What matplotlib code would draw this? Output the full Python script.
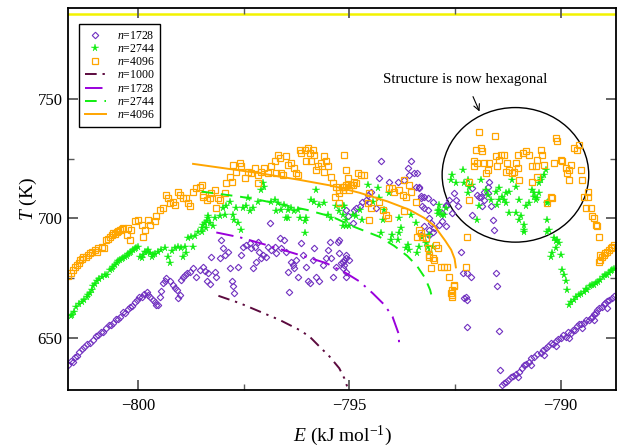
import matplotlib
matplotlib.use("Agg")
import matplotlib.pyplot as plt
from matplotlib.patches import Ellipse
import numpy as np

plt.rcParams['font.family'] = ['Liberation Serif', 'DejaVu Serif']
plt.rcParams['mathtext.fontset'] = 'custom'
plt.rcParams['mathtext.rm'] = 'Liberation Serif'
plt.rcParams['mathtext.it'] = 'Liberation Serif:italic'

# ---------------- data (E in kJ/mol, T in K) ----------------
pts_1728 = [
    (-801.65, 638.5), (-801.6, 640.5), (-801.55, 640.0), (-801.5, 642.0), (-801.45, 642.5), (-801.4, 644.0),
    (-801.34, 645.3), (-801.28, 646.0), (-801.22, 647.5), (-801.15, 648.0), (-801.06, 649.2), (-801.0, 650.8),
    (-800.94, 651.0), (-800.88, 652.5), (-800.83, 652.6), (-800.76, 654.0), (-800.7, 655.2), (-800.64, 655.5),
    (-800.59, 656.2), (-800.52, 657.8), (-800.47, 658.0), (-800.43, 658.9), (-800.37, 660.8), (-800.31, 660.3),
    (-800.25, 662.0), (-800.2, 663.1), (-800.14, 663.5), (-800.08, 665.2), (-800.02, 665.8), (-799.97, 667.0),
    (-799.92, 667.3), (-799.86, 668.2), (-799.8, 669.4), (-799.76, 668.0), (-799.72, 667.3), (-799.66, 665.8),
    (-799.61, 665.2), (-799.57, 663.6), (-799.53, 663.8), (-799.49, 667.3), (-799.45, 669.5), (-799.41, 672.9),
    (-799.37, 674.0), (-799.33, 675.0), (-799.25, 673.6), (-799.17, 672.2), (-799.13, 671.0), (-799.09, 670.1),
    (-799.06, 666.6), (-799.02, 668.0), (-798.98, 674.3), (-798.94, 675.5), (-798.9, 676.4), (-798.84, 677.0),
    (-798.78, 677.7), (-798.7, 679.2), (-798.62, 675.6), (-798.54, 678.5), (-798.46, 679.8), (-798.42, 678.0),
    (-798.38, 673.6), (-798.35, 677.1), (-798.31, 672.5),
    (-798.27, 684.0), (-798.19, 677.7), (-798.15, 675.5), (-798.07, 683.3), (-798.03, 691.0), (-797.99, 687.5),
    (-797.95, 684.7), (-797.87, 686.1), (-797.83, 679.2), (-797.79, 673.6), (-797.76, 671.5), (-797.72, 668.7),
    (-797.64, 679.8), (-797.56, 684.7), (-797.52, 688.2), (-797.44, 688.9), (-797.36, 689.6), (-797.32, 687.5),
    (-797.24, 688.2), (-797.17, 690.3), (-797.13, 686.1), (-797.09, 683.3), (-797.05, 684.7), (-797.28, 679.2),
    (-797.2, 681.9), (-796.97, 684.0), (-796.93, 688.2), (-796.89, 698.0), (-796.85, 686.8), (-796.77, 688.2),
    (-796.73, 685.4), (-796.65, 691.7), (-796.61, 687.5), (-796.54, 691.0), (-796.5, 686.1), (-796.46, 677.7),
    (-796.42, 669.4), (-796.38, 681.9), (-796.34, 680.5), (-796.3, 679.2), (-796.26, 682.6), (-796.22, 675.6),
    (-796.14, 689.6), (-796.1, 684.7), (-796.02, 679.8), (-795.98, 673.6), (-795.94, 672.9), (-795.87, 682.6),
    (-795.83, 687.5), (-795.79, 675.6), (-795.71, 673.6), (-795.63, 680.5), (-795.55, 683.3), (-795.51, 686.8),
    (-795.47, 690.3), (-795.43, 683.3), (-795.39, 675.6), (-795.31, 679.8), (-795.28, 690.3), (-795.24, 685.4),
    (-795.2, 681.3), (-795.16, 679.2), (-795.12, 682.6), (-795.08, 684.7), (-795.04, 700.8), (-795.08, 677.7),
    (-794.25, 723.8), (-793.54, 723.8), (-793.62, 721.0), (-794.29, 716.8), (-794.06, 715.4), (-793.86, 715.4),
    (-793.7, 716.1), (-793.58, 718.2), (-793.46, 718.9), (-793.39, 718.9), (-793.42, 713.3), (-793.35, 712.6),
    (-793.31, 708.5), (-793.15, 708.5), (-793.23, 704.3), (-793.15, 703.6), (-793.11, 700.1), (-793.07, 698.0),
    (-794.49, 711.2), (-794.57, 709.8), (-794.61, 707.7), (-794.69, 707.0), (-794.53, 707.0), (-794.37, 704.3),
    (-794.76, 705.0), (-794.88, 703.6), (-794.84, 704.3), (-795.08, 703.6), (-794.92, 698.0), (-792.72, 705.6),
    (-792.8, 702.2), (-792.87, 697.3), (-792.8, 698.7), (-792.72, 696.6), (-793.11, 695.2), (-795.24, 691.0),
    (-795.08, 683.3), (-795.16, 681.9), (-795.0, 682.6), (-795.12, 680.5), (-795.08, 675.6),
    (-792.36, 686.1), (-792.21, 677.1), (-792.13, 675.6), (-792.28, 666.6), (-792.21, 665.9), (-792.24, 667.0),
    (-792.21, 654.7), (-791.5, 671.5), (-791.54, 677.1), (-791.46, 652.9), (-791.43, 636.6), (-792.09, 701.5),
    (-791.58, 695.2), (-791.93, 709.1), (-791.73, 710.5), (-791.81, 707.7), (-792.32, 677.1),
    (-793.35, 713.3), (-793.31, 709.5), (-793.23, 708.8), (-793.27, 705.3), (-793.03, 707.0), (-792.64, 707.7),
    (-792.72, 705.0), (-792.52, 710.5), (-792.48, 707.7), (-792.44, 705.0), (-792.56, 702.2), (-792.09, 712.6),
    (-791.97, 709.8), (-791.89, 709.1), (-791.81, 711.2), (-791.73, 713.3), (-791.7, 715.4), (-791.85, 705.0),
    (-791.65, 705.0), (-791.61, 699.4), (-793.03, 694.5), (-792.99, 695.9), (-793.23, 696.6), (-793.11, 693.1),
    (-793.31, 693.1),
    (-791.39, 630.3), (-791.34, 631.0), (-791.3, 631.7), (-791.24, 632.5), (-791.18, 633.8), (-791.12, 634.0),
    (-791.06, 634.9), (-790.98, 635.9), (-790.92, 637.5), (-790.87, 638.7), (-790.81, 639.0), (-790.75, 640.1),
    (-790.69, 641.5), (-790.63, 642.2), (-790.55, 643.3), (-790.47, 643.5), (-790.41, 645.0), (-790.35, 645.7),
    (-790.29, 646.5), (-790.24, 647.8), (-790.18, 647.5), (-790.12, 648.5), (-790.06, 649.5), (-790.0, 649.9),
    (-789.94, 651.0), (-789.88, 650.5), (-789.82, 652.5), (-789.76, 652.0), (-789.7, 653.5), (-789.65, 653.3),
    (-789.61, 655.0), (-789.57, 655.9), (-789.51, 656.0), (-789.45, 656.4), (-789.39, 657.5), (-789.33, 657.5),
    (-789.29, 658.5), (-789.25, 658.9), (-789.21, 660.0), (-789.17, 660.6), (-789.13, 661.5), (-789.1, 662.4),
    (-789.02, 663.1), (-788.98, 664.0), (-788.94, 664.5), (-788.9, 665.5), (-788.86, 665.9), (-788.78, 666.6),
    (-788.74, 667.5), (-791.0, 633.5), (-790.7, 638.5), (-790.4, 643.0), (-790.1, 646.5), (-789.8, 650.0),
    (-789.5, 654.0), (-789.2, 657.5), (-788.9, 662.5),
]

pts_2744 = [
    (-801.6, 659.0), (-801.57, 659.6), (-801.52, 661.0), (-801.46, 663.1), (-801.4, 664.0), (-801.34, 665.2),
    (-801.28, 666.0), (-801.22, 667.3), (-801.18, 668.0), (-801.14, 668.7), (-801.1, 670.0), (-801.06, 671.5),
    (-801.02, 672.5), (-800.98, 673.6), (-800.92, 674.5), (-800.86, 675.6), (-800.79, 676.4), (-800.73, 676.2),
    (-800.67, 678.5), (-800.63, 679.0), (-800.59, 679.8), (-800.55, 680.5), (-800.51, 681.3), (-800.47, 682.0),
    (-800.43, 682.6), (-800.39, 683.0), (-800.35, 683.3), (-800.31, 684.0), (-800.27, 684.3), (-800.23, 685.0),
    (-800.2, 685.4), (-800.16, 686.0), (-800.12, 686.8), (-800.08, 687.0), (-800.04, 687.5), (-800.0, 688.0),
    (-799.96, 684.0), (-799.92, 683.5), (-799.88, 684.5), (-799.84, 685.8), (-799.8, 686.0), (-799.76, 686.8),
    (-799.72, 685.5), (-799.68, 684.0), (-799.64, 684.5), (-799.6, 685.0), (-799.53, 686.1), (-799.45, 686.8),
    (-799.37, 687.5), (-799.29, 684.0), (-799.25, 681.3), (-799.21, 686.5), (-799.13, 687.5), (-799.06, 688.2),
    (-798.98, 687.5), (-798.9, 688.2), (-798.94, 684.0), (-798.86, 685.4), (-798.82, 691.7), (-798.74, 692.4),
    (-798.7, 688.2), (-798.66, 692.5), (-798.58, 694.5), (-798.5, 695.9), (-798.46, 697.3), (-798.42, 698.0),
    (-798.38, 698.7), (-798.35, 700.8),
    (-798.5, 694.5), (-798.35, 700.1), (-798.31, 698.0), (-798.23, 696.6), (-798.39, 696.0), (-798.19, 700.1),
    (-798.07, 700.8), (-797.99, 704.3), (-797.91, 705.0), (-797.83, 707.0), (-797.95, 701.5), (-797.76, 701.5),
    (-797.72, 699.5), (-797.64, 698.0), (-797.56, 695.2), (-797.68, 704.3), (-797.52, 704.3), (-797.44, 705.0),
    (-797.36, 702.9), (-797.28, 704.3), (-797.4, 708.5), (-797.17, 707.0), (-797.09, 711.9), (-797.01, 713.3),
    (-797.05, 714.7), (-796.85, 707.0), (-796.77, 707.7), (-796.69, 706.4), (-796.61, 703.6), (-796.54, 705.6),
    (-796.46, 703.6), (-796.38, 704.3), (-796.3, 702.9), (-796.22, 703.6), (-796.18, 700.1), (-796.06, 698.7),
    (-796.02, 700.1), (-796.46, 700.1), (-796.73, 703.0), (-795.9, 707.7), (-795.79, 711.9), (-795.83, 707.0),
    (-795.71, 705.6), (-795.59, 706.4), (-795.51, 701.5), (-795.43, 700.1), (-795.31, 705.0), (-795.24, 702.9),
    (-795.16, 701.5), (-795.08, 696.6), (-795.12, 705.0), (-796.06, 693.8), (-796.5, 700.1),
    (-794.57, 714.0), (-794.33, 712.6), (-794.06, 710.5), (-794.29, 708.5), (-794.45, 707.0), (-794.76, 703.6),
    (-794.92, 701.5), (-794.84, 700.8), (-794.69, 699.4), (-795.08, 699.4), (-795.0, 696.6), (-795.16, 705.0),
    (-795.16, 696.6), (-794.21, 699.4), (-794.17, 703.6), (-793.82, 700.1), (-793.78, 695.9), (-793.54, 701.5),
    (-793.42, 698.0), (-793.62, 688.9), (-793.66, 687.5), (-793.58, 686.8), (-793.35, 688.2), (-793.39, 685.4),
    (-793.82, 693.8), (-793.86, 691.0), (-793.98, 693.1), (-794.02, 691.0), (-794.25, 693.8), (-793.15, 688.2),
    (-793.11, 686.1), (-792.91, 702.9), (-792.87, 705.6), (-792.8, 701.5), (-792.72, 704.3), (-792.6, 716.1),
    (-792.48, 714.7), (-793.27, 692.4), (-793.11, 693.1), (-793.19, 689.6), (-793.03, 688.2),
    (-792.56, 718.2), (-792.32, 720.3), (-792.28, 714.7), (-792.2, 716.1), (-792.17, 713.3), (-792.09, 714.0),
    (-791.89, 716.1), (-791.77, 711.9), (-791.73, 709.8), (-791.65, 707.7), (-791.54, 711.2), (-791.46, 712.6),
    (-791.38, 709.1), (-791.34, 707.7), (-791.3, 706.4), (-791.22, 711.2), (-791.14, 716.1), (-791.06, 713.3),
    (-790.98, 707.7), (-790.83, 705.0), (-790.75, 706.4), (-790.63, 709.1), (-790.51, 710.5), (-790.47, 716.1),
    (-790.39, 718.2), (-790.35, 720.3), (-790.32, 706.4), (-791.22, 702.2), (-791.06, 702.2), (-790.94, 700.8),
    (-790.87, 697.3), (-790.98, 699.4), (-791.97, 699.4), (-791.93, 705.0), (-791.5, 705.6), (-790.87, 695.2),
    (-791.46, 707.7), (-792.87, 703.6), (-792.91, 702.0), (-792.75, 701.5), (-792.2, 710.5), (-791.3, 710.5),
    (-790.47, 716.8), (-790.51, 715.0), (-790.67, 711.9), (-790.63, 710.5), (-790.55, 708.5), (-790.59, 707.7),
    (-790.3, 707.0), (-790.32, 699.4), (-790.28, 695.2), (-790.16, 691.7), (-790.12, 690.5), (-790.08, 691.0),
    (-790.04, 689.6), (-790.12, 687.5), (-790.2, 685.4), (-790.24, 684.0), (-790.0, 684.7), (-789.96, 678.5),
    (-789.92, 676.4), (-789.88, 673.6), (-789.84, 670.1), (-790.87, 694.5), (-790.32, 694.5),
    (-789.81, 663.8), (-789.75, 665.0), (-789.69, 665.9), (-789.63, 667.0), (-789.57, 668.0), (-789.51, 668.5),
    (-789.45, 669.4), (-789.41, 670.5), (-789.37, 670.1), (-789.31, 671.5), (-789.25, 672.2), (-789.21, 672.0),
    (-789.17, 672.9), (-789.12, 673.5), (-789.06, 674.3), (-789.0, 675.5), (-788.94, 676.4), (-788.9, 676.5),
    (-788.86, 677.1), (-788.82, 678.0), (-788.78, 678.5), (-788.73, 679.0),
]

pts_4096 = [
    (-801.65, 675.9), (-801.6, 677.0), (-801.54, 678.5), (-801.49, 679.5), (-801.45, 680.5), (-801.41, 681.5),
    (-801.38, 682.6), (-801.34, 683.0), (-801.3, 684.0), (-801.24, 684.0), (-801.18, 684.7), (-801.14, 685.5),
    (-801.1, 686.1), (-801.02, 686.8), (-800.98, 685.8), (-800.94, 687.5), (-800.86, 688.2), (-800.8, 687.8),
    (-800.75, 691.0), (-800.71, 691.5), (-800.67, 692.4), (-800.63, 693.0), (-800.59, 693.8), (-800.55, 693.5),
    (-800.51, 694.5), (-800.47, 694.8), (-800.43, 695.2), (-800.39, 695.5), (-800.35, 695.9), (-800.27, 693.1),
    (-800.2, 691.0), (-800.24, 696.0), (-800.16, 695.2), (-800.08, 698.7), (-800.0, 699.4), (-799.92, 697.3),
    (-799.84, 695.2), (-799.88, 692.4), (-799.76, 699.4), (-799.72, 697.3), (-799.61, 698.7), (-799.57, 700.8),
    (-799.49, 703.6), (-799.41, 704.3), (-799.33, 709.8), (-799.29, 708.5), (-799.25, 706.4), (-799.17, 707.0),
    (-799.13, 705.6), (-799.06, 711.2), (-799.02, 709.8), (-798.94, 708.5), (-798.86, 708.5), (-798.82, 706.4),
    (-798.78, 705.0), (-798.7, 711.2), (-798.62, 712.6), (-798.54, 713.3), (-798.46, 709.1), (-798.38, 707.7),
    (-798.5, 714.0), (-798.46, 709.8), (-798.31, 708.5), (-798.27, 710.5), (-798.19, 711.9), (-798.11, 708.5),
    (-798.07, 707.7), (-798.15, 704.3), (-797.95, 710.5), (-797.91, 714.7), (-797.83, 717.5), (-797.76, 722.4),
    (-797.68, 719.6), (-797.79, 715.4), (-797.6, 723.1), (-797.56, 721.7), (-797.48, 716.8), (-797.4, 719.6),
    (-797.32, 718.9), (-797.24, 721.0), (-797.17, 718.2), (-797.17, 714.7), (-797.09, 719.6), (-797.01, 721.0),
    (-796.93, 718.9), (-796.85, 721.7), (-796.77, 723.8), (-796.69, 726.6), (-796.65, 725.2), (-796.73, 718.9),
    (-796.61, 718.9), (-796.57, 718.2), (-796.5, 725.9), (-796.46, 722.4), (-796.38, 723.1), (-796.3, 721.0),
    (-796.26, 718.9), (-796.22, 718.2), (-796.18, 728.7), (-796.14, 727.3), (-796.06, 728.7), (-795.98, 729.4),
    (-795.94, 727.3), (-795.87, 728.7), (-795.83, 726.6), (-796.02, 723.8), (-795.9, 723.8), (-795.75, 721.7),
    (-795.79, 720.3), (-795.67, 723.1), (-795.59, 725.9), (-795.55, 723.8), (-795.51, 721.7), (-795.59, 719.6),
    (-795.43, 717.5), (-795.39, 714.7), (-795.31, 713.3), (-795.24, 711.9), (-795.35, 709.1), (-795.24, 710.5),
    (-795.16, 713.3), (-795.08, 720.3), (-795.12, 726.6), (-795.04, 714.0),
    (-795.04, 716.8), (-795.12, 713.3), (-794.96, 714.0), (-794.8, 718.9), (-794.72, 718.2), (-794.65, 718.2),
    (-794.88, 715.4), (-794.92, 714.0), (-794.84, 714.7), (-795.08, 714.0), (-795.0, 711.9), (-795.16, 711.9),
    (-795.24, 706.4), (-794.53, 710.5), (-794.57, 706.4), (-794.49, 704.3), (-794.29, 707.0), (-794.21, 703.6),
    (-794.13, 701.5), (-794.09, 700.1), (-794.06, 712.6), (-793.98, 712.6), (-793.94, 711.2), (-793.82, 711.9),
    (-793.74, 709.8), (-793.66, 709.1), (-793.7, 716.1), (-793.58, 714.0), (-793.54, 711.2), (-793.42, 707.0),
    (-794.53, 699.4), (-793.7, 702.9), (-793.35, 695.2), (-793.31, 693.8), (-793.39, 692.4), (-793.27, 692.4),
    (-792.95, 688.9), (-792.91, 687.5), (-793.15, 687.5), (-793.11, 684.0), (-793.03, 683.3), (-792.99, 682.6),
    (-793.07, 679.2), (-792.83, 679.8), (-792.75, 679.8), (-792.68, 679.8), (-792.64, 675.6), (-792.52, 671.5),
    (-792.6, 668.7), (-792.56, 668.0), (-792.24, 679.8), (-792.52, 672.2), (-792.56, 670.1), (-792.56, 667.3),
    (-792.21, 692.4), (-792.17, 707.7), (-792.17, 715.4), (-793.19, 691.7), (-793.11, 684.7),
    (-791.93, 736.3), (-791.56, 734.5), (-792.01, 728.7), (-791.89, 729.4), (-791.85, 728.0), (-792.05, 723.8),
    (-792.05, 721.7), (-791.97, 723.1), (-791.81, 723.1), (-791.73, 720.3), (-791.77, 718.9), (-791.69, 723.1),
    (-791.54, 725.9), (-791.46, 724.5), (-791.42, 726.6), (-791.34, 726.6), (-791.26, 723.1), (-791.22, 720.3),
    (-791.1, 719.6), (-791.06, 723.1), (-791.02, 721.0), (-791.02, 726.6), (-790.9, 727.3), (-790.83, 728.0),
    (-790.75, 726.6), (-790.67, 721.7), (-790.59, 721.7), (-790.55, 724.5), (-790.47, 728.7), (-790.43, 726.6),
    (-790.39, 722.4), (-790.16, 723.1), (-790.12, 733.6), (-790.08, 732.2), (-790.0, 724.5), (-789.96, 723.8),
    (-789.88, 721.0), (-789.84, 718.9), (-789.8, 720.3), (-789.76, 722.4), (-789.69, 729.4), (-789.61, 728.7),
    (-789.57, 730.8), (-789.53, 720.3), (-789.49, 716.1), (-791.5, 721.7), (-791.3, 719.6), (-790.98, 716.1),
    (-790.67, 715.4), (-790.24, 709.1), (-790.2, 708.5), (-790.32, 706.4), (-791.16, 718.9), (-790.55, 717.5),
    (-789.81, 716.1), (-789.36, 711.2), (-789.45, 709.1), (-789.36, 709.1), (-789.41, 704.3), (-789.29, 704.3),
    (-789.25, 700.8), (-789.21, 700.1), (-789.17, 697.3), (-789.13, 696.6), (-789.1, 692.4), (-789.06, 684.7),
    (-789.02, 684.0), (-788.98, 684.7), (-788.94, 685.4), (-788.9, 686.1), (-788.86, 686.8), (-788.82, 687.5),
    (-788.78, 688.2), (-788.74, 689.0), (-789.1, 681.9), (-789.06, 682.6),
]

fit_1000_E = [-798.1, -797.59, -797.12, -796.65, -796.18, -795.94, -795.71, -795.47, -795.24, -795.12, -795.04]
fit_1000_T = [667.6, 664.5, 661.0, 657.5, 653.3, 650.5, 646.4, 642.2, 637.3, 633.1, 629.0]
fit_1728_E = [-798.15, -797.6, -796.97, -796.35, -795.55, -795.08, -794.76, -794.45, -794.17, -793.98, -793.84, -793.82]
fit_1728_T = [694.1, 692.1, 688.9, 685.6, 681.3, 677.1, 673.6, 668.7, 663.8, 658.9, 652.0, 647.1]
fit_2744_E = [-798.5, -797.6, -797.13, -796.02, -795.4, -794.88, -794.29, -793.94, -793.63, -793.4, -793.21, -793.09, -793.03]
fit_2744_T = [711.2, 709.1, 707.7, 703.6, 700.6, 696.4, 692.3, 688.5, 684.3, 680.1, 675.1, 670.1, 665.9]
fit_4096_E = [-798.7, -797.13, -796.18, -795.4, -794.76, -794.1, -793.58, -793.23, -792.99, -792.73, -792.59, -792.51, -792.48]
fit_4096_T = [722.8, 718.9, 716.1, 713.6, 710.7, 707.1, 703.6, 700.2, 696.9, 690.6, 686.8, 683.1, 679.5]

top_line_T = 785.3
labels = ['$n$=1728', '$n$=2744', '$n$=4096', '$n$=1000', '$n$=1728', '$n$=2744', '$n$=4096']

# ---------------- plot ----------------
fig = plt.figure(figsize=(6.24, 4.48), dpi=100)
ax = fig.add_axes([68/624, 1-390/448, (616-68)/624, (390-8)/448])

c_purple_m = '#7030c0'
c_purple_l = '#9a00dc'
c_green = '#10ee10'
c_orange = '#ffa500'
c_maroon = '#5c0a3e'

ax.axhline(top_line_T, color='#f2f200', lw=1.8, zorder=1)

e, t = zip(*pts_1728)
h1, = ax.plot(e, t, ls='none', marker='D', ms=3.3, mfc='none', mec=c_purple_m, mew=0.8)
e, t = zip(*pts_2744)
h2, = ax.plot(e, t, ls='none', marker='*', ms=5.5, mfc=c_green, mec=c_green, mew=0.3)
e, t = zip(*pts_4096)
h3, = ax.plot(e, t, ls='none', marker='s', ms=4.0, mfc='none', mec=c_orange, mew=0.9)

h4, = ax.plot(fit_1000_E, fit_1000_T, color=c_maroon, lw=1.4, ls=(0, (6, 3, 1.2, 3, 1.2, 3)))
h5, = ax.plot(fit_1728_E, fit_1728_T, color=c_purple_l, lw=1.4, ls=(0, (9, 3.5, 1.2, 3.5)))
h6, = ax.plot(fit_2744_E, fit_2744_T, color=c_green, lw=1.4, ls=(0, (6, 4)))
h7, = ax.plot(fit_4096_E, fit_4096_T, color=c_orange, lw=1.4, ls='-')

ax.add_patch(Ellipse((-791.07, 718.2), 3.47, 56.3, fill=False, ec='black', lw=1.0))
ax.annotate('Structure is now hexagonal', xy=(-791.92, 744.7), xytext=(-792.25, 758.0),
            ha='center', va='center', fontsize=10.8,
            arrowprops=dict(arrowstyle='->', color='black', lw=0.8, shrinkA=6, shrinkB=0))

ax.set_xlim(-801.66, -788.69)
ax.set_ylim(628.2, 788.0)
ax.set_xticks([-800, -795, -790])
ax.set_xticklabels(['\u2212800', '\u2212795', '\u2212790'])
ax.set_xticks([-797.5, -792.5], minor=True)
ax.set_yticks([650, 700, 750])
ax.set_yticks([675, 725], minor=True)
ax.tick_params(which='both', direction='in', top=True, right=True, color='0.35')
ax.tick_params(which='major', length=7.5, width=1.3, labelsize=12)
ax.tick_params(which='minor', length=4, width=1.0)
ax.tick_params(axis='x', pad=6)
ax.tick_params(axis='y', pad=4)
for s in ax.spines.values():
    s.set_linewidth(1.3)

ax.set_xlabel('$E$ (kJ mol$^{-1}$)', fontsize=14, labelpad=6.5)
ax.set_ylabel('$T$ (K)', fontsize=14, labelpad=-1)

leg = ax.legend([h1, h2, h3, h4, h5, h6, h7], labels, loc='upper left',
                bbox_to_anchor=(0.02, 0.958), borderaxespad=0, fontsize=8.5,
                numpoints=1, handlelength=1.8, handletextpad=0.9, labelspacing=0.1,
                borderpad=0.5, fancybox=False, framealpha=1, edgecolor='black')
leg.get_frame().set_linewidth(1.0)

fig.savefig('out.png', dpi=100)
